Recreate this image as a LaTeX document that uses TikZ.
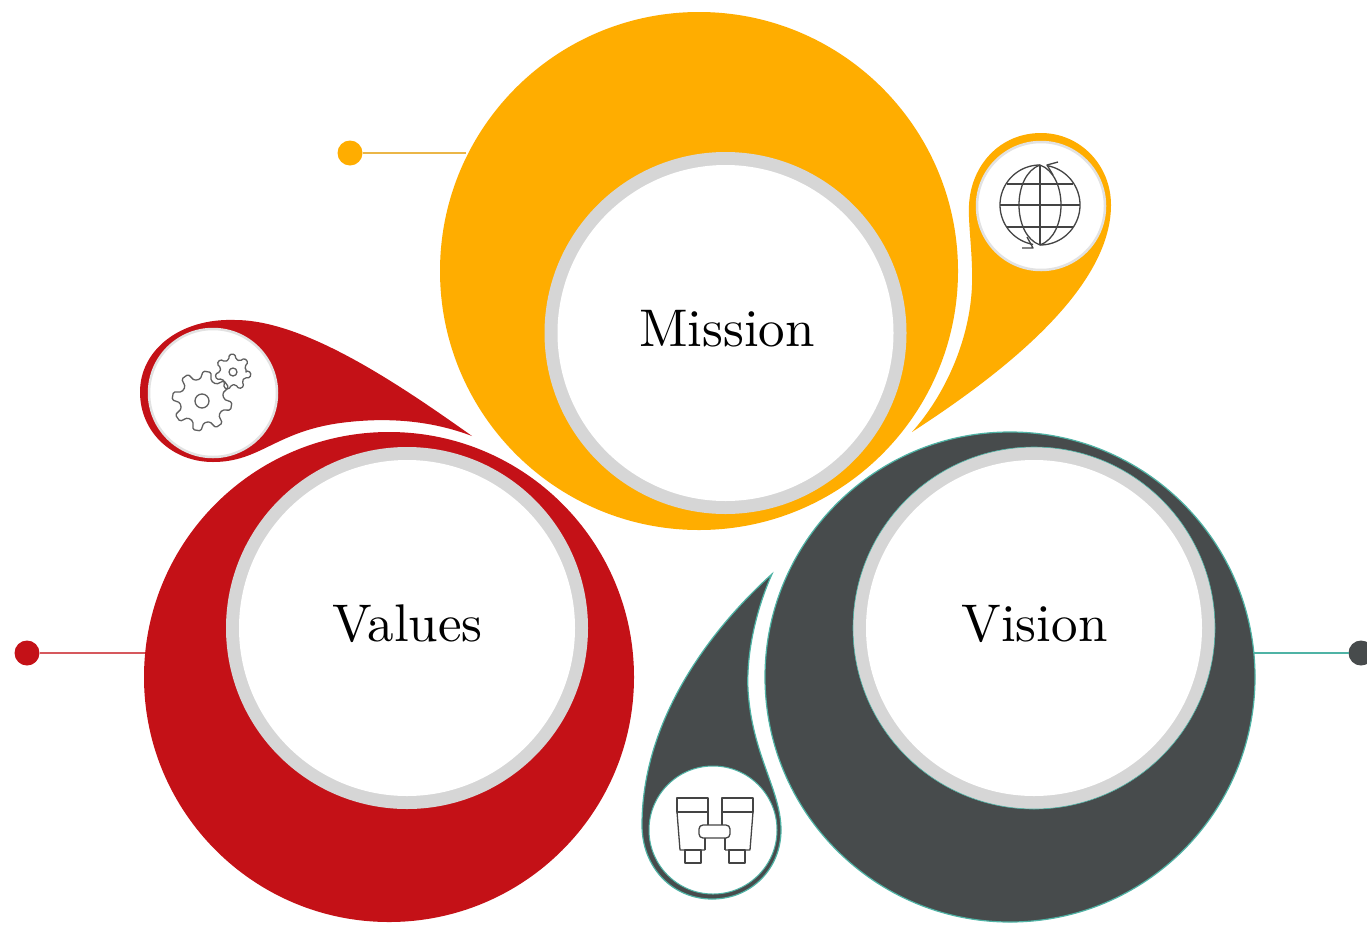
\documentclass[tikz,border=0pt]{standalone}
\usepackage{fontspec}
\setmainfont{lmroman10-regular}[Extension=.otf]
\usetikzlibrary{arrows.meta}
\definecolor{amber}{HTML}{FFAD00}
\definecolor{crim}{HTML}{C41117}
\definecolor{slate}{HTML}{474B4C}
\definecolor{tealline}{HTML}{4FB3A5}
\definecolor{ringgrey}{HTML}{D6D6D6}
\definecolor{iconline}{HTML}{444444}
\tikzset{
  disc/.style={circle,inner sep=0pt,outer sep=0pt,minimum size=#1},
  bigA/.style={disc=518pt,fill=amber},
  bigR/.style={disc=490pt,fill=crim},
  bigS/.style={disc=490pt,fill=slate,draw=tealline,line width=1.2pt},
  ring/.style={disc=362pt,fill=ringgrey},
  face/.style={disc=336pt,fill=white},
  caption/.style={text=black,inner sep=0pt,font=\fontsize{53}{60}\selectfont},
  minidisc/.style={disc=128pt,fill=white,draw=ringgrey!70!white,line width=2.5pt},
  dotnode/.style={disc=25pt,fill=#1},
  stem/.style={line width=1.8pt},
  icon/.style={draw=iconline,line width=1.3pt,line join=round},
  gear/.style={draw=iconline!85,line width=1.3pt,line join=round}
}
\newcommand{\geartrace}[6]{% cx cy outer inner teeth rotation
  \pgfmathsetmacro{\stepang}{360/#5}
  \path[gear,rounded corners=1.5pt] ({#1+#4*cos(#6-0.32*\stepang)},{#2+#4*sin(#6-0.32*\stepang)})
  \foreach \k in {1,...,#5}{
    \pgfextra{\pgfmathsetmacro{\ang}{(\k-1)*\stepang+#6}}
    -- ({#1+#3*cos(\ang-0.17*\stepang)},{#2+#3*sin(\ang-0.17*\stepang)})
    -- ({#1+#3*cos(\ang+0.17*\stepang)},{#2+#3*sin(\ang+0.17*\stepang)})
    -- ({#1+#4*cos(\ang+0.32*\stepang)},{#2+#4*sin(\ang+0.32*\stepang)})
    -- ({#1+#4*cos(\ang+0.68*\stepang)},{#2+#4*sin(\ang+0.68*\stepang)})
  } -- cycle;
}
\begin{document}
\begin{tikzpicture}[x=1pt,y=-1pt]
\useasboundingbox (0,0) rectangle (1367,924);
\clip (0,0) rectangle (1367,924);
\fill[white] (0,0) rectangle (1367,924);

% lead dots and stems
\node[dotnode=amber] (dotM) at (350,153) {};
\node[dotnode=crim] (dotV) at (27,653) {};
\node[dotnode=slate] (dotS) at (1361,653) {};
\coordinate (endM) at (466,153);
\coordinate (endV) at (146,653);
\coordinate (endS) at (1252,653);
\draw[stem,draw=amber!80!gray!80!white] (dotM) -- (endM);
\draw[stem,draw=crim!70!white] (dotV) -- (endV);
\draw[stem,draw=tealline] (dotS) -- (endS);

% teardrops
\fill[amber] (912,432)
  .. controls (1000,375) and (1111,290) .. (1111,205)
  .. controls (1111,165) and (1080,133) .. (1041,133)
  .. controls (1000,133) and (971,165) .. (969,205)
  .. controls (968,225) and (973,255) .. (972,285)
  .. controls (970,340) and (945,395) .. (912,432) -- cycle;
\fill[crim] (472,436)
  .. controls (400,385) and (305,320) .. (235,320)
  .. controls (180,318) and (140,350) .. (140,392)
  .. controls (140,432) and (172,462) .. (213,462)
  .. controls (260,462) and (275,432) .. (340,423)
  .. controls (385,417) and (430,420) .. (472,436) -- cycle;
\filldraw[fill=slate,draw=tealline,line width=1.2pt] (772,574)
  .. controls (710,630) and (642,720) .. (642,825)
  .. controls (642,868) and (673,899) .. (712,899)
  .. controls (752,899) and (781,868) .. (781,830)
  .. controls (781,790) and (752,755) .. (748,690)
  .. controls (746,650) and (758,605) .. (772,574) -- cycle;

% big circles
\node[bigA] (bigM) at (699,271) {};
\node[bigR] (bigV) at (389,677) {};
\node[bigS] (bigS) at (1010,677) {};
\node[ring] (ringM) at (725.5,333) {};
\node[ring] (ringV) at (407,628) {};
\node[ring,draw=tealline,line width=0.6pt] (ringS) at (1034,628) {};
\node[face] (faceM) at (725.5,333) {};
\node[face] (faceV) at (407,628) {};
\node[face] (faceS) at (1034,628) {};
\node[caption] (mission) at (727,329) {Mission};
\node[caption] (values) at (407.5,624) {Values};
\node[caption] (vision) at (1034.5,624) {Vision};

% small icon discs
\node[minidisc] (miniM) at (1041,206) {};
\node[minidisc] (miniV) at (213,393) {};
\node[minidisc,draw=tealline,line width=1pt] (miniS) at (713,830) {};

% globe
\begin{scope}[icon]
  \draw plot[smooth,domain=100:270,samples=60] ({1040+40*cos(\x)},{205+40*sin(\x)});
  \draw plot[smooth,domain=-80:90,samples=60] ({1040+40*cos(\x)},{205+40*sin(\x)});
  \draw (1040,245) -- (1040,165);
  \draw (1040,165) .. controls (1012,175) and (1012,235) .. (1040,245);
  \draw (1040,165) .. controls (1068,175) and (1068,235) .. (1040,245);
  \draw (1007,184) -- (1073,184);
  \draw (1000,205) -- (1080,205);
  \draw (1007,227) -- (1073,227);
  \draw (1058,162) -- (1047,165) -- (1053,175);
  \draw (1027,237) -- (1033,248) -- (1022,248);
\end{scope}

% gears
\geartrace{202}{401}{30}{22}{8}{10}
\draw[gear] (202,401) circle[radius=7];
\geartrace{233}{372}{18}{13}{7}{10}
\draw[gear] (233,372) circle[radius=4];

% binoculars
\begin{scope}[icon]
  \draw (677,798) rectangle (708,812);
  \draw (677,812) -- (680,850) -- (705,850);
  \draw (708,812) -- (708,825);
  \draw (705,838) -- (705,850);
  \draw (685,850) rectangle (701,863);
  \draw (722,798) rectangle (753,812);
  \draw (753,812) -- (750,850) -- (725,850);
  \draw (722,812) -- (722,825);
  \draw (725,838) -- (725,850);
  \draw (729,850) rectangle (745,863);
  \draw[rounded corners=4pt] (699,825) rectangle (730,838);
\end{scope}
\end{tikzpicture}
\end{document}
